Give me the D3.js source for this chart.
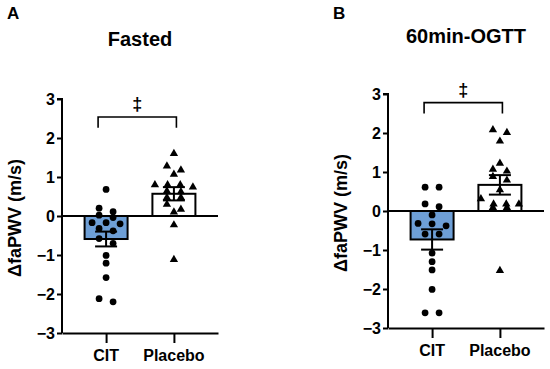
<!DOCTYPE html>
<html>
<head>
<meta charset="utf-8">
<script src="https://cdn.jsdelivr.net/npm/d3@7"></script>
<style>
  body { margin: 0; background: #fff; }
  svg text { font-family: "Liberation Sans", Arial, sans-serif; font-weight: bold; fill: #000; }
</style>
</head>
<body>
<svg id="chart" width="550" height="369"></svg>
<script>
// values (m/s)
const groups = ["CIT", "Placebo"];
const yTicks = [-3, -2, -1, 0, 1, 2, 3];

const fastedCIT = [0.68, 0.2, 0.11, 0.02, -0.04, -0.17, -0.17, -0.2, -0.32, -0.38, -0.58, -0.7, -1.01, -1.21, -1.58, -2.12, -2.2];
const fastedPlacebo = [1.6, 1.28, 1.18, 1.07, 0.8, 0.8, 0.8, 0.74, 0.64, 0.62, 0.47, 0.47, 0.3, 0.17, 0.1, -0.23, -1.12];
const ogttCIT = [0.61, 0.61, 0.18, 0.11, -0.1, -0.32, -0.33, -0.38, -0.59, -0.59, -1.08, -1.3, -1.51, -2.01, -2.61, -2.61];
const ogttPlacebo = [2.08, 2.01, 1.79, 1.22, 1.07, 1.02, 0.88, 0.79, 0.54, 0.31, 0.18, 0.18, 0.18, 0.09, 0.09, -1.53];

const fastedMean = [-0.59, 0.57], fastedSem = [0.19, 0.17];
const ogttMean = [-0.73, 0.67], ogttSem = [0.26, 0.25];

const panels = [
  { letter: "A", title: "Fasted", pts: [fastedCIT, fastedPlacebo], mean: fastedMean, sem: fastedSem,
    ox: 62, top: 99, bottom: 333, letterX: 7, titleY: 46, brTop: 2.54, brBot: 2.26, xLabY: 361 },
  { letter: "B", title: "60min-OGTT", pts: [ogttCIT, ogttPlacebo], mean: ogttMean, sem: ogttSem,
    ox: 388, top: 94, bottom: 328, letterX: 333, titleY: 43, brTop: 2.78, brBot: 2.5, xLabY: 356 }
];

const svg = d3.select("#chart");
const axisLen = 156, barW = 43, capW = 22;
const fills = ["#6e9fd6", "#ffffff"];

// GraphPad-like scatter: points close in y share a centred row
function swarm(vals, y) {
  const sorted = vals.slice().sort((a, b) => b - a);
  const rows = [];
  sorted.forEach(v => {
    const last = rows[rows.length - 1];
    if (last && Math.abs(y(v) - y(last[0])) < 5.5) last.push(v);
    else rows.push([v]);
  });
  const out = [];
  rows.forEach(r => {
    const sp = r.length > 1 ? Math.min(14, 38 / (r.length - 1)) : 0;
    r.forEach((v, i) => out.push({ v, dx: (i - (r.length - 1) / 2) * sp }));
  });
  return out;
}

panels.forEach(p => {
  const g = svg.append("g");
  const y = d3.scaleLinear().domain([-3, 3]).range([p.bottom, p.top]);
  const x = d3.scalePoint().domain(groups).range([p.ox, p.ox + axisLen]).padding(0.65);

  g.append("text").attr("x", p.letterX).attr("y", 19).attr("font-size", 17).text(p.letter);
  g.append("text").attr("x", x("CIT") + (x("Placebo") - x("CIT")) / 2).attr("y", p.titleY)
    .attr("text-anchor", "middle").attr("font-size", 20).text(p.title);

  // y axis
  const ya = g.append("g").attr("transform", `translate(${p.ox},0)`)
    .call(d3.axisLeft(y).tickValues(yTicks).tickFormat(d3.format("d")).tickSize(5).tickPadding(2));
  ya.select(".domain").attr("stroke-width", 2).attr("d", `M-5,${p.top}H0V${p.bottom}`);
  ya.selectAll(".tick line").attr("stroke-width", 2);
  ya.selectAll(".tick text").attr("font-size", 16).attr("font-family", null).attr("fill", "#000");

  // x axis
  const xa = g.append("g").attr("transform", `translate(0,${p.bottom})`)
    .call(d3.axisBottom(x).tickSize(10).tickSizeOuter(0));
  xa.select(".domain").attr("stroke-width", 2);
  xa.selectAll(".tick line").attr("stroke-width", 2);
  xa.selectAll(".tick text").remove();
  groups.forEach(k => g.append("text").attr("x", x(k)).attr("y", p.xLabY)
    .attr("text-anchor", "middle").attr("font-size", 16).text(k));

  g.append("text").attr("transform", `translate(${p.ox - 41},${(p.top + p.bottom) / 2 + 2}) rotate(-90)`)
    .attr("text-anchor", "middle").attr("font-size", 18).text("ΔfaPWV (m/s)");

  // bars
  g.selectAll("rect.bar").data(groups).join("rect").attr("class", "bar")
    .attr("x", k => x(k) - barW / 2).attr("width", barW)
    .attr("y", (k, i) => Math.min(y(0), y(p.mean[i])))
    .attr("height", (k, i) => Math.abs(y(p.mean[i]) - y(0)))
    .attr("fill", (k, i) => fills[i]).attr("stroke", "#000").attr("stroke-width", 2);

  // zero line
  g.append("line").attr("x1", p.ox).attr("x2", p.ox + axisLen).attr("y1", y(0)).attr("y2", y(0))
    .attr("stroke", "#000").attr("stroke-width", 2);

  // points
  groups.forEach((k, i) => {
    const pts = swarm(p.pts[i], y);
    const sym = d3.symbol().type(i === 0 ? d3.symbolCircle : d3.symbolTriangle).size(i === 0 ? 36 : 30);
    g.append("g").selectAll("path").data(pts).join("path")
      .attr("d", sym).attr("fill", "#000")
      .attr("transform", d => `translate(${x(k) + d.dx},${y(d.v)})`);
  });

  // error bars (mean +/- SEM)
  groups.forEach((k, i) => {
    const lo = y(p.mean[i] - p.sem[i]), hi = y(p.mean[i] + p.sem[i]);
    const eb = g.append("g").attr("stroke", "#000").attr("stroke-width", 2);
    eb.append("line").attr("x1", x(k)).attr("x2", x(k)).attr("y1", lo).attr("y2", hi);
    [lo, hi].forEach(v => eb.append("line").attr("x1", x(k) - capW / 2).attr("x2", x(k) + capW / 2)
      .attr("y1", v).attr("y2", v));
  });

  // significance bracket
  const bx0 = x("CIT") - 8, bx1 = x("Placebo") + 2.5;
  g.append("path").attr("fill", "none").attr("stroke", "#000").attr("stroke-width", 1.6)
    .attr("d", `M${bx0},${y(p.brBot)}V${y(p.brTop)}H${bx1}V${y(p.brBot)}`);
  g.append("text").attr("x", (bx0 + bx1) / 2).attr("y", y(p.brTop) - 7)
    .attr("text-anchor", "middle").attr("font-size", 18).attr("font-family", "DejaVu Sans").text("‡");
});
</script>
</body>
</html>
